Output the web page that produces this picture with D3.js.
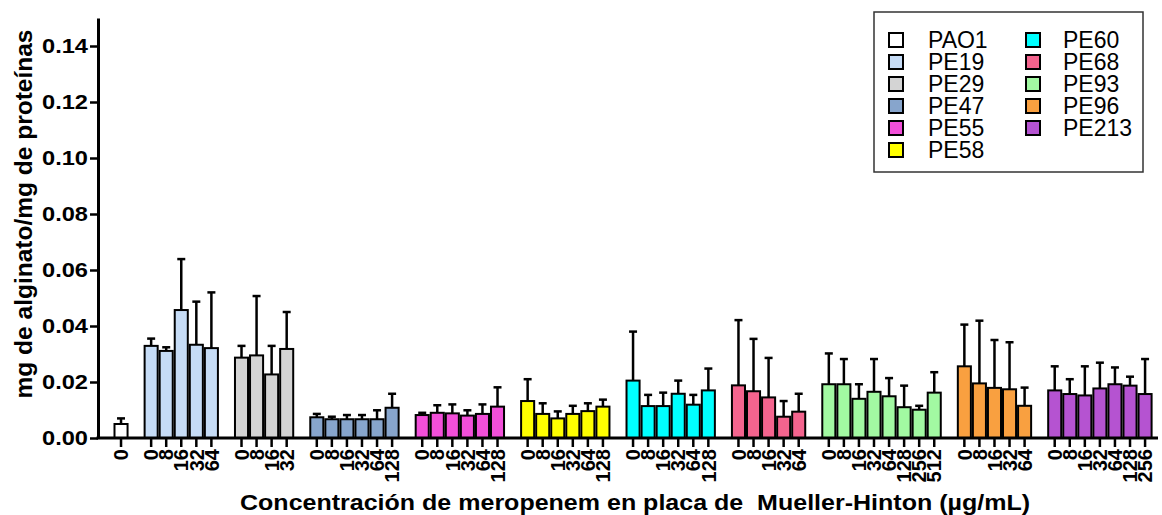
<!DOCTYPE html>
<html>
<head>
<meta charset="utf-8">
<script src="https://cdn.jsdelivr.net/npm/d3@7"></script>
<style>
  body { margin: 0; background: #fff; }
  svg { display: block; font-family: "Liberation Sans", Arial, sans-serif; }
</style>
</head>
<body>
<svg id="chart" width="1162" height="515"></svg>
<script>
// Strains, colours and meropenem concentrations (ug/mL)
const strains = ["PAO1", "PE19", "PE29", "PE47", "PE55", "PE58", "PE60", "PE68", "PE93", "PE96", "PE213"];
const colors = ["#ffffff", "#c6dcf6", "#d4d4d4", "#87a5cc", "#f24fd9", "#ffff00", "#00ffff", "#f4648e", "#a2f9a2", "#f9a040", "#b553d1"];
const concentrations = [
  [0],
  [0, 8, 16, 32, 64],
  [0, 8, 16, 32],
  [0, 8, 16, 32, 64, 128],
  [0, 8, 16, 32, 64, 128],
  [0, 8, 16, 32, 64, 128],
  [0, 8, 16, 32, 64, 128],
  [0, 8, 16, 32, 64],
  [0, 8, 16, 32, 64, 128, 256, 512],
  [0, 8, 16, 32, 64],
  [0, 8, 16, 32, 64, 128, 256]
];
// mean alginate / protein
const means = [
  [0.005],
  [0.0329, 0.0311, 0.0457, 0.0333, 0.0321],
  [0.0287, 0.0295, 0.0227, 0.0318],
  [0.0074, 0.0067, 0.0067, 0.0067, 0.0067, 0.0108],
  [0.0082, 0.009, 0.0088, 0.008, 0.0086, 0.0112],
  [0.0132, 0.0086, 0.007, 0.0086, 0.0096, 0.0112],
  [0.0205, 0.0114, 0.0114, 0.0158, 0.0119, 0.017],
  [0.0188, 0.0167, 0.0145, 0.0076, 0.0094],
  [0.0192, 0.0192, 0.014, 0.0165, 0.0149, 0.011, 0.0101, 0.0162],
  [0.0256, 0.0195, 0.0179, 0.0174, 0.0115],
  [0.017, 0.0157, 0.0152, 0.0177, 0.0192, 0.0187, 0.0157]
];
// standard deviation (upper bar only)
const errors = [
  [0.002],
  [0.0026, 0.0013, 0.0182, 0.0154, 0.0199],
  [0.0042, 0.0212, 0.0102, 0.0132],
  [0.0012, 0.0009, 0.0015, 0.0015, 0.0032, 0.005],
  [0.0008, 0.0027, 0.0032, 0.0019, 0.0034, 0.0069],
  [0.0078, 0.0038, 0.0025, 0.0029, 0.0028, 0.0025],
  [0.0175, 0.004, 0.0048, 0.0047, 0.0035, 0.0078],
  [0.0233, 0.0187, 0.0141, 0.0056, 0.0064],
  [0.011, 0.009, 0.0052, 0.0117, 0.0065, 0.0077, 0.0014, 0.0073],
  [0.0149, 0.0224, 0.0171, 0.0168, 0.0065],
  [0.0086, 0.0053, 0.0104, 0.0092, 0.006, 0.0032, 0.0125]
];
const yTicks = [0, 0.02, 0.04, 0.06, 0.08, 0.10, 0.12, 0.14];

const svg = d3.select("#chart");
const plotLeft = 98, plotRight = 1158, plotBottom = 438, plotTop = 18;

// one slot per bar, one empty slot between strains
const bars = [];
let slot = 0;
strains.forEach((s, g) => {
  concentrations[g].forEach((c, i) => {
    bars.push({ slot: slot++, group: g, conc: c, mean: means[g][i], err: errors[g][i] });
  });
  slot++;
});
const nSlots = slot - 1;

const x = d3.scaleBand().domain(d3.range(nSlots)).range([113.5, 1152.6]).padding(0);
const y = d3.scaleLinear().domain([0, 0.15]).range([plotBottom, plotTop]);

// bars
svg.append("g").selectAll("rect")
  .data(bars)
  .join("rect")
  .attr("x", d => x(d.slot) + 1)
  .attr("width", x.bandwidth() - 2)
  .attr("y", d => y(d.mean))
  .attr("height", d => y(0) - y(d.mean))
  .attr("fill", d => colors[d.group])
  .attr("stroke", "#000")
  .attr("stroke-width", 2);

// error bars
const eb = svg.append("g").attr("stroke", "#000").attr("stroke-width", 2.5);
eb.selectAll("line.v")
  .data(bars)
  .join("line")
  .attr("class", "v")
  .attr("x1", d => x(d.slot) + x.bandwidth() / 2)
  .attr("x2", d => x(d.slot) + x.bandwidth() / 2)
  .attr("y1", d => y(d.mean))
  .attr("y2", d => y(d.mean + d.err));
eb.selectAll("line.c")
  .data(bars)
  .join("line")
  .attr("class", "c")
  .attr("x1", d => x(d.slot) + x.bandwidth() / 2 - 4)
  .attr("x2", d => x(d.slot) + x.bandwidth() / 2 + 4)
  .attr("y1", d => y(d.mean + d.err))
  .attr("y2", d => y(d.mean + d.err));

// y axis
const yAxis = svg.append("g")
  .attr("transform", `translate(${plotLeft},0)`)
  .call(d3.axisLeft(y).tickValues(yTicks).tickFormat(d3.format(".2f")).tickSize(8).tickSizeOuter(0).tickPadding(2));
yAxis.select(".domain").attr("stroke-width", 3);
yAxis.selectAll(".tick line").attr("stroke-width", 2.5);
yAxis.selectAll("text")
  .attr("font-size", 21).attr("font-weight", "bold").attr("fill", "#000")
  .attr("font-family", "Liberation Sans, Arial, sans-serif")
  .attr("textLength", 46).attr("lengthAdjust", "spacingAndGlyphs");

// x axis
const labelBySlot = new Map(bars.map(d => [d.slot, d.conc]));
const xAxis = svg.append("g")
  .attr("transform", `translate(0,${plotBottom})`)
  .call(d3.axisBottom(x).tickValues(bars.map(d => d.slot)).tickFormat(s => labelBySlot.get(s)).tickSize(9));
xAxis.select(".domain").remove();
xAxis.selectAll(".tick line").attr("stroke-width", 2.5);
xAxis.selectAll("text")
  .attr("transform", "rotate(-90)")
  .attr("text-anchor", "end")
  .attr("x", -11)
  .attr("y", 0)
  .attr("dy", "0.36em")
  .attr("font-size", 20)
  .attr("font-weight", "bold")
  .attr("fill", "#000")
  .attr("font-family", "Liberation Sans, Arial, sans-serif");
svg.append("line")
  .attr("x1", plotLeft - 1.5).attr("x2", plotRight)
  .attr("y1", plotBottom).attr("y2", plotBottom)
  .attr("stroke", "#000").attr("stroke-width", 3);

// axis titles
svg.append("text")
  .attr("x", 240).attr("y", 510)
  .attr("font-size", 22).attr("font-weight", "bold")
  .attr("textLength", 790).attr("lengthAdjust", "spacingAndGlyphs")
  .style("white-space", "pre")
  .text("Concentración de meropenem en placa de  Mueller-Hinton (\u00b5g/mL)");
svg.append("text")
  .attr("transform", "translate(32,214) rotate(-90)")
  .attr("text-anchor", "middle")
  .attr("font-size", 24.5).attr("font-weight", "bold")
  .text("mg de alginato/mg de proteínas");

// legend
const legend = svg.append("g");
legend.append("rect")
  .attr("x", 874).attr("y", 12).attr("width", 269).attr("height", 160)
  .attr("fill", "#fff").attr("stroke", "#333").attr("stroke-width", 1.5);
const items = legend.selectAll("g.item")
  .data(strains)
  .join("g")
  .attr("class", "item")
  .attr("transform", (d, i) => i < 6
    ? `translate(889,${40 + i * 22})`
    : `translate(1026,${40 + (i - 6) * 22})`);
items.append("rect")
  .attr("x", 0).attr("y", -7).attr("width", 14).attr("height", 14)
  .attr("fill", (d, i) => colors[i])
  .attr("stroke", "#000").attr("stroke-width", 2);
items.append("text")
  .attr("x", (d, i) => i < 6 ? 39 : 37)
  .attr("y", 0)
  .attr("dy", "0.36em")
  .attr("font-size", 23)
  .text(d => d);
</script>
</body>
</html>
